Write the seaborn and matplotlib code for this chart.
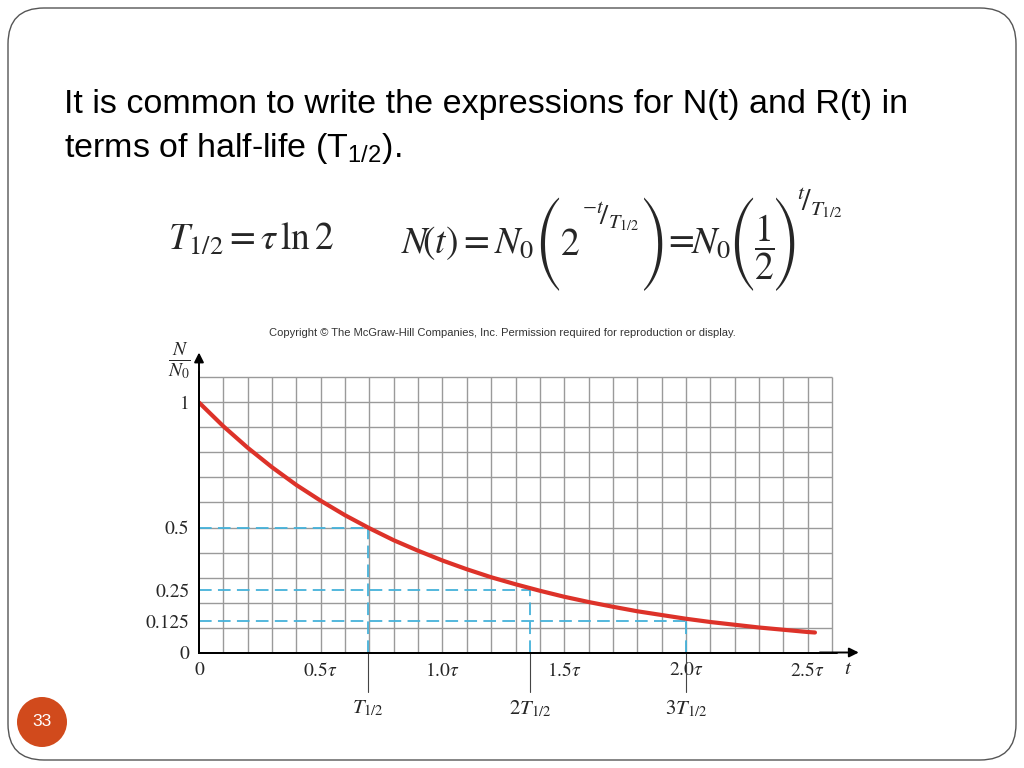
import numpy as np
import pandas as pd
import matplotlib
matplotlib.use("Agg")
import matplotlib.pyplot as plt
import seaborn as sns
from matplotlib.patches import FancyBboxPatch, Ellipse

# ---- data ----
t_vals = [0.0, 0.1, 0.2, 0.3, 0.4, 0.5, 0.6, 0.7, 0.8, 0.9, 1.0, 1.1, 1.2,
          1.3, 1.4, 1.5, 1.6, 1.7, 1.8, 1.9, 2.0, 2.1, 2.2, 2.3, 2.4, 2.5, 2.53]
n_vals = [1.000, 0.905, 0.819, 0.741, 0.670, 0.607, 0.549, 0.497, 0.449,
          0.407, 0.368, 0.333, 0.301, 0.273, 0.247, 0.223, 0.202, 0.183,
          0.165, 0.150, 0.135, 0.122, 0.111, 0.100, 0.091, 0.082, 0.080]
half_marks = [0.693, 1.36, 2.0]
half_levels = [0.5, 0.25, 0.125]
half_labels = [r"$T_{1/2}$", r"$2T_{1/2}$", r"$3T_{1/2}$"]
x_ticks = [0, 0.5, 1.0, 1.5, 2.0, 2.5]
x_ticklabels = ["0", r"$0.5\tau$", r"$1.0\tau$", r"$1.5\tau$", r"$2.0\tau$", r"$2.5\tau$"]
y_ticks = [0, 0.125, 0.25, 0.5, 1]
y_ticklabels = ["0", "0.125", "0.25", "0.5", "1"]

df = pd.DataFrame({"t": t_vals, "N": n_vals})

sns.set_theme(style="white")
plt.rcParams["font.family"] = ["STIXGeneral", "DejaVu Serif"]
plt.rcParams["mathtext.fontset"] = "stix"
plt.rcParams["mathtext.rm"] = "Liberation Sans"
plt.rcParams["mathtext.it"] = "Liberation Sans:italic"
plt.rcParams["mathtext.bf"] = "Liberation Sans:bold"

W, H = 1024, 768
fig = plt.figure(figsize=(W / 100, H / 100), dpi=100)
fig.patch.set_facecolor("white")
renderer = fig.canvas.get_renderer()


def fx(px):
    return px / W


def fy(py):
    return 1 - py / H


# slide border
border = FancyBboxPatch((8 / 100, 8 / 100), (1016 - 8) / 100, (760 - 8) / 100,
                        boxstyle="round,pad=0,rounding_size=0.36",
                        transform=fig.dpi_scale_trans, fill=False,
                        edgecolor="#555555", linewidth=1.0)
fig.add_artist(border)

# title
fig.text(fx(64), fy(105), "It is common to write the expressions for N(t) and R(t) in",
         fontsize=24.5, family="Liberation Sans", color="black", va="center", ha="left")
fig.text(fx(64), fy(148), r"terms of half-life (T$_{\mathrm{1/2}}$).",
         fontsize=24.5, family="Liberation Sans", color="black", va="center", ha="left",
         math_fontfamily="custom")

# formula 1
fig.text(fx(168), fy(240), r"$T_{1/2} = \tau\,\ln 2$", fontsize=27,
         va="center", ha="left", math_fontfamily="stix")


# formula 2, piece by piece, each piece's box left edge put at a target pixel
def put(left, s, ypx, va="baseline", size=27, family=None):
    kw = dict(fontsize=size, va=va, ha="left")
    if family:
        kw["family"] = family
    else:
        kw["math_fontfamily"] = "stix"
    t = fig.text(fx(left), fy(ypx), s, **kw)
    bb = t.get_window_extent(renderer=renderer)
    t.set_x(fx(left + (left - bb.x0)))
    return t


big = "STIXSizeThreeSym"
put(401, r"$N\!\left(t\right)=N_0$", 253)
put(533, "(", 244, va="center", family=big)
put(560, r"$2$", 255)
put(582, r"${}^{-t}\!/_{T_{1/2}}$", 217, va="center", size=21)
put(641, ")", 244, va="center", family=big)
put(668, "=", 243, va="center", family="STIXGeneral")
put(691, r"$N_0$", 253)
put(727, "(", 244, va="center", family=big)
put(754, r"$\dfrac{1}{2}$", 247, va="center")
put(773, ")", 244, va="center", family=big)
put(797, r"${}^{t}\!/_{T_{1/2}}$", 203, va="center", size=22)

# copyright
fig.text(fx(502), fy(333),
         "Copyright \u00a9 The McGraw-Hill Companies, Inc. Permission required for reproduction or display.",
         fontsize=8.0, family="Liberation Sans", color="#333333", ha="center", va="center")

# page number
fig.add_artist(Ellipse((fx(42), fy(722)), 50 / W, 50 / H, transform=fig.transFigure,
                       facecolor="#D14A1C", edgecolor="none"))
fig.text(fx(42), fy(722), "33", fontsize=12.5, family="Liberation Sans",
         color="white", ha="center", va="center")

# axes
x0, x1 = 199, 832
ytop, ybot = 377.5, 652.5
ax = fig.add_axes([x0 / W, 1 - ybot / H, (x1 - x0) / W, (ybot - ytop) / H])
ax.set_xlim(0, 2.6)
ax.set_ylim(0, 1.1)
ax.set_facecolor("white")
ax.grid(False)

grid_x = np.arange(1, 27) * 0.1
grid_y = np.arange(1, 12) * 0.1
ax.vlines(grid_x, 0, 1.1, color="#9a9a9a", linewidth=1.0, clip_on=False, zorder=1)
ax.hlines(grid_y, 0, 2.6, color="#9a9a9a", linewidth=1.0, clip_on=False, zorder=1)

ax.set_xticks(x_ticks)
ax.set_xticklabels(x_ticklabels)
ax.set_yticks(y_ticks)
ax.set_yticklabels(y_ticklabels)
ax.tick_params(which="both", length=0)
ax.tick_params(axis="x", pad=7, labelsize=14)
ax.tick_params(axis="y", pad=7, labelsize=14)

for s in ["top", "right"]:
    ax.spines[s].set_visible(False)
for s in ["left", "bottom"]:
    ax.spines[s].set_color("black")
    ax.spines[s].set_linewidth(1.4)
    ax.spines[s].set_zorder(4)

# dashed guide lines
cyan = "#45B2DA"
for tm, lv in zip(half_marks, half_levels):
    ax.plot([0, tm], [lv, lv], color=cyan, lw=1.3, dashes=(7, 3.5), zorder=2)
    ax.plot([tm, tm], [0, lv], color=cyan, lw=1.3, dashes=(7, 3.5), zorder=2)

# decay curve
sns.lineplot(data=df, x="t", y="N", ax=ax, color="#DD3229", lw=3.0, zorder=3)
ax.set_xlabel("")
ax.set_ylabel("")

# marks under axis
for tm, lab in zip(half_marks, half_labels):
    ax.plot([tm, tm], [0, -0.158], color="#444444", lw=0.8, clip_on=False)
    ax.text(tm, -0.225, lab, fontsize=15, ha="center", va="center")

# axis arrows
ax.plot([0, 2.62], [0, 0], color="black", lw=1.4, clip_on=False, zorder=4)
ax.annotate("", xy=(2.71, 0), xytext=(2.55, 0),
            arrowprops=dict(arrowstyle="-|>", color="black", lw=1.4,
                            mutation_scale=14, shrinkA=0, shrinkB=0),
            annotation_clip=False)
ax.plot([0, 0], [0, 1.12], color="black", lw=1.4, clip_on=False, zorder=4)
ax.annotate("", xy=(0, 1.2), xytext=(0, 1.05),
            arrowprops=dict(arrowstyle="-|>", color="black", lw=1.4,
                            mutation_scale=14, shrinkA=0, shrinkB=0),
            annotation_clip=False)

ax.text(2.665, -0.066, r"$t$", fontsize=15, ha="center", va="center")
ax.text(-0.08, 1.165, r"$\frac{N}{N_0}$", fontsize=20, ha="center", va="center")

fig.savefig("out.png", dpi=100)
